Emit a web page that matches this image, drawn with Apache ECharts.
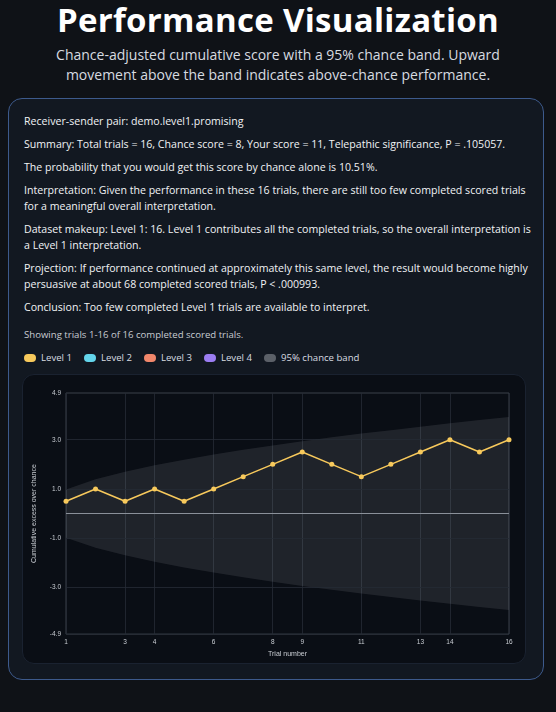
<!DOCTYPE html>
<html><head><meta charset="utf-8">
<script src="https://cdn.jsdelivr.net/npm/echarts@6/dist/echarts.min.js"></script>
<style>
html,body{margin:0;padding:0;background:#0f1217;width:556px;height:712px;overflow:hidden;font-family:"Open Sans","Noto Sans",sans-serif;color:#e8ebef}
h1{margin:0;position:absolute;top:-3px;left:0;width:556px;text-align:center;font-size:33px;font-weight:700;color:#fff;font-family:"Open Sans",sans-serif;letter-spacing:0.3px}
.sub{position:absolute;top:45px;left:40px;width:476px;text-align:center;font-size:14px;line-height:20px;color:#d7dbe0}
.card{position:absolute;left:8px;top:98px;width:536px;height:582px;border:1px solid #3d5a8c;border-radius:14px;background:#121821;box-sizing:border-box}
.txt{position:absolute;left:15px;top:14px;width:510px;font-size:10.6px;line-height:16px;color:#f1f3f5}
.txt p{margin:0 0 7px 0}
.show{font-size:9.6px;color:#c8ccd2;margin-top:12px!important}
.leg{display:flex;gap:0;font-size:9.6px;color:#d7dbe0;margin-top:6px;align-items:center}
.leg span{display:inline-flex;align-items:center;margin-right:12px}
.leg i{display:inline-block;width:12px;height:8px;border-radius:4px;margin-right:5px}
#chart{position:absolute;left:13px;top:275px;width:502px;height:288px;border-radius:12px;background:#0a0e15;border:1px solid #1a2230}
</style></head><body>
<h1>Performance Visualization</h1>
<div class="sub">Chance-adjusted cumulative score with a 95% chance band. Upward movement above the band indicates above-chance performance.</div>
<div class="card">
<div class="txt">
<p>Receiver-sender pair: demo.level1.promising</p>
<p>Summary: Total trials = 16, Chance score = 8, Your score = 11, Telepathic significance, P = .105057.</p>
<p>The probability that you would get this score by chance alone is 10.51%.</p>
<p>Interpretation: Given the performance in these 16 trials, there are still too few completed scored trials for a meaningful overall interpretation.</p>
<p>Dataset makeup: Level 1: 16. Level 1 contributes all the completed trials, so the overall interpretation is a Level 1 interpretation.</p>
<p>Projection: If performance continued at approximately this same level, the result would become highly persuasive at about 68 completed scored trials, P &lt; .000993.</p>
<p>Conclusion: Too few completed Level 1 trials are available to interpret.</p>
<p class="show">Showing trials 1-16 of 16 completed scored trials.</p>
<div class="leg"><span><i style="background:#f7c95c"></i>Level 1</span><span><i style="background:#63d4ea"></i>Level 2</span><span><i style="background:#f1876b"></i>Level 3</span><span><i style="background:#9b7df2"></i>Level 4</span><span><i style="background:#5b6068"></i>95% chance band</span></div>
</div>
<div id="chart"></div>
</div>
<script>
const trials = [1,2,3,4,5,6,7,8,9,10,11,12,13,14,15,16];
const level1 = [0.5,1.0,0.5,1.0,0.5,1.0,1.5,2.0,2.5,2.0,1.5,2.0,2.5,3.0,2.5,3.0];
const bandLower = [-0.98,-1.39,-1.70,-1.96,-2.19,-2.40,-2.59,-2.77,-2.94,-3.10,-3.25,-3.39,-3.53,-3.67,-3.80,-3.92];
const bandUpper = [0.98,1.39,1.70,1.96,2.19,2.40,2.59,2.77,2.94,3.10,3.25,3.39,3.53,3.67,3.80,3.92];
const xTickLabels = [1,3,4,6,8,9,11,13,14,16];
const yTickLabels = [-4.9,-3.0,-1.0,1.0,3.0,4.9];

const chart = echarts.init(document.getElementById('chart'));
const showX = (i)=> xTickLabels.includes(trials[i]);
chart.setOption({
  animation:false,
  grid:{left:41,right:16,top:18,bottom:27,show:true,borderColor:'#3a404a',borderWidth:1},
  xAxis:{type:'category',data:trials.map(String),boundaryGap:false,name:'Trial number',nameLocation:'middle',nameGap:14,
    nameTextStyle:{color:'#c9cdd3',fontSize:7},
    axisLine:{show:false},axisTick:{show:false},
    axisLabel:{interval:showX,color:'#c9cdd3',fontSize:6.5,margin:5},
    splitLine:{show:true,interval:showX,lineStyle:{color:'#262c36',width:0.8}}},
  yAxis:{type:'value',min:-4.9,max:4.9,name:'Cumulative excess over chance',nameLocation:'middle',nameGap:28,
    nameTextStyle:{color:'#c9cdd3',fontSize:7},
    axisLine:{show:false},axisTick:{show:false},splitLine:{show:false},
    axisLabel:{customValues:yTickLabels,formatter:v=>v.toFixed(1),color:'#c9cdd3',fontSize:6.5,margin:5}},
  series:[
    {type:'line',data:bandLower,stack:'band',stackStrategy:'all',symbol:'none',lineStyle:{opacity:0},silent:true,
     markLine:{silent:true,symbol:'none',label:{show:false},lineStyle:{color:'#262c36',width:0.8,type:'solid'},
       data:yTickLabels.filter(v=>Math.abs(v)<4.9).map(v=>({yAxis:v}))}},
    {type:'line',data:bandUpper.map((u,i)=>+(u-bandLower[i]).toFixed(2)),stack:'band',stackStrategy:'all',symbol:'none',lineStyle:{opacity:0},
     areaStyle:{color:'rgba(200,205,215,0.16)'},silent:true,
     markLine:{silent:true,symbol:'none',label:{show:false},lineStyle:{color:'#8a9099',width:1,type:'solid'},data:[{yAxis:0}]}},
    {type:'line',name:'Level 1',data:level1,symbol:'circle',symbolSize:5,
     lineStyle:{color:'#f7c95c',width:1.5},itemStyle:{color:'#f7c95c'},z:5}
  ]
});
</script>
</body></html>
